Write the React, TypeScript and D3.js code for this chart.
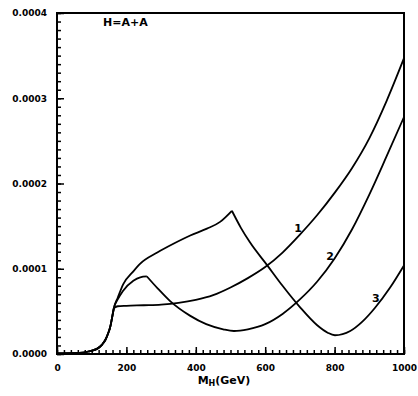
import React, { useRef, useEffect } from 'react';
import * as d3 from 'd3';

// shared threshold rise (all three curves start together)
const thresholdMass = [0, 50, 75, 95, 115, 130, 140, 148, 153, 158, 164];
const thresholdValue = [0.0000008, 0.000001, 0.0000015, 0.0000035, 0.000006, 0.000011, 0.000017, 0.000025, 0.000031, 0.000041, 0.000054];

const mass1 = [175, 200, 250, 300, 350, 400, 450, 500, 550, 600, 650, 700, 750, 800, 850, 900, 950, 1000];
const value1 = [0.000056, 0.0000565, 0.0000572, 0.000058, 0.00006, 0.0000635, 0.000069, 0.000078, 0.000089, 0.000102, 0.000119, 0.00014, 0.000163, 0.000189, 0.000218, 0.000253, 0.000297, 0.000347];

const mass2 = [175, 190, 220, 240, 259, 290, 326, 383, 430, 479, 510, 550, 600, 650, 700, 750, 800, 850, 900, 950, 1000];
const value2 = [0.000064, 0.000074, 0.000086, 0.00009, 0.000091, 0.000077, 0.000062, 0.000045, 0.000035, 0.000029, 0.000027, 0.000029, 0.000035, 0.000047, 0.000064, 0.000085, 0.000112, 0.000146, 0.000187, 0.000232, 0.000278];

const mass3 = [175, 191, 220, 240, 289, 334, 384, 432, 470, 504, 530, 556, 606, 650, 700, 749, 780, 801, 845, 880, 916, 960, 1000];
const value3 = [0.000066, 0.000082, 0.000097, 0.000106, 0.000119, 0.000129, 0.000139, 0.000147, 0.000155, 0.000168, 0.000148, 0.000131, 0.000104, 0.00008, 0.000055, 0.000034, 0.000025, 0.000022, 0.000027, 0.000038, 0.000054, 0.000078, 0.000104];

// masses where the curve has a sharp kink
const cusps = [164, 259, 504];

const curveLabels = ['1', '2', '3'];
const labelMass = [695, 787, 919];
const labelValue = [0.000148, 0.000115, 0.000065];

const xMajor = [0, 200, 400, 600, 800, 1000];
const yMajor = [0, 0.0001, 0.0002, 0.0003, 0.0004];

const App = () => {
    const chartRef = useRef<SVGSVGElement>(null);

    useEffect(() => {
        const width = 418;
        const height = 396;
        const left = 57, right = 404, top = 13, bottom = 354;
        const font = 'DejaVu Sans';

        const x = d3.scaleLinear().domain([0, 1000]).range([left, right]);
        const y = d3.scaleLinear().domain([0, 0.0004]).range([bottom, top]);

        const svg = d3.select(chartRef.current)
            .attr('width', width)
            .attr('height', height);
        svg.selectAll('*').remove();

        svg.append('rect')
            .attr('width', width).attr('height', height).attr('fill', 'white');

        const series = [
            { mass: thresholdMass.concat(mass1), value: thresholdValue.concat(value1) },
            { mass: thresholdMass.concat(mass2), value: thresholdValue.concat(value2) },
            { mass: thresholdMass.concat(mass3), value: thresholdValue.concat(value3) },
        ];

        const line = d3.line<[number, number]>()
            .x(d => x(d[0]))
            .y(d => y(d[1]))
            .curve(d3.curveMonotoneX);

        const drawSeg = (seg: [number, number][]) =>
            svg.append('path').attr('d', line(seg)).attr('fill', 'none')
                .attr('stroke', 'black').attr('stroke-width', 1.8).attr('stroke-linejoin', 'round');

        series.forEach((s, i) => {
            const pts: [number, number][] = s.mass.map((m, j) => [m, s.value[j]]);
            // split at kinks so the smoothing keeps them sharp
            const cut = i === 0 ? [164] : cusps.filter(c => c !== 164);
            let seg: [number, number][] = [];
            pts.forEach(p => {
                seg.push(p);
                if (cut.includes(p[0])) {
                    drawSeg(seg);
                    seg = [p];
                }
            });
            drawSeg(seg);
        });

        // minor ticks
        svg.append('g')
            .attr('transform', `translate(${left},0)`)
            .call(d3.axisLeft(y).ticks(40).tickSize(-4).tickFormat(() => ''))
            .call(g => g.select('.domain').remove());
        svg.append('g')
            .attr('transform', `translate(0,${bottom})`)
            .call(d3.axisBottom(x).tickValues(d3.range(0, 1001, 20)).tickSize(-4).tickFormat(() => ''))
            .call(g => g.select('.domain').remove());

        // major ticks with labels
        svg.append('g')
            .attr('transform', `translate(${left},0)`)
            .call(d3.axisLeft(y).tickValues(yMajor).tickSize(-7).tickPadding(10).tickFormat(d3.format('.4f')))
            .call(g => g.select('.domain').remove())
            .attr('font-family', font).attr('font-weight', 'bold').attr('font-size', 9);
        svg.append('g')
            .attr('transform', `translate(0,${bottom})`)
            .call(d3.axisBottom(x).tickValues(xMajor).tickSize(-7).tickPadding(11).tickFormat(d3.format('d')))
            .call(g => g.select('.domain').remove())
            .attr('font-family', font).attr('font-weight', 'bold').attr('font-size', 9);

        svg.selectAll('.tick line').attr('stroke-width', 1.5);

        svg.append('rect')
            .attr('x', left).attr('y', top)
            .attr('width', right - left).attr('height', bottom - top)
            .attr('fill', 'none').attr('stroke', 'black').attr('stroke-width', 2);

        svg.append('text')
            .attr('x', 103).attr('y', 25.5)
            .attr('font-family', font).attr('font-weight', 'bold').attr('font-size', 11)
            .text('H=A+A');

        svg.selectAll('.curve-label')
            .data(curveLabels)
            .join('text')
            .attr('class', 'curve-label')
            .attr('x', (d, i) => x(labelMass[i]))
            .attr('y', (d, i) => y(labelValue[i]))
            .attr('dy', '0.35em')
            .attr('text-anchor', 'middle')
            .attr('font-family', font).attr('font-weight', 'bold').attr('font-size', 11)
            .text(d => d);

        const title = svg.append('text')
            .attr('x', 224).attr('y', 384)
            .attr('text-anchor', 'middle')
            .attr('font-family', font).attr('font-weight', 'bold').attr('font-size', 11);
        title.append('tspan').text('M');
        title.append('tspan').attr('font-size', 8).attr('dy', 2).text('H');
        title.append('tspan').attr('dy', -2).text('(GeV)');
    }, []);

    return <svg ref={chartRef} style={{ position: 'absolute', left: 0, top: 0 }}></svg>;
};

export default App;
